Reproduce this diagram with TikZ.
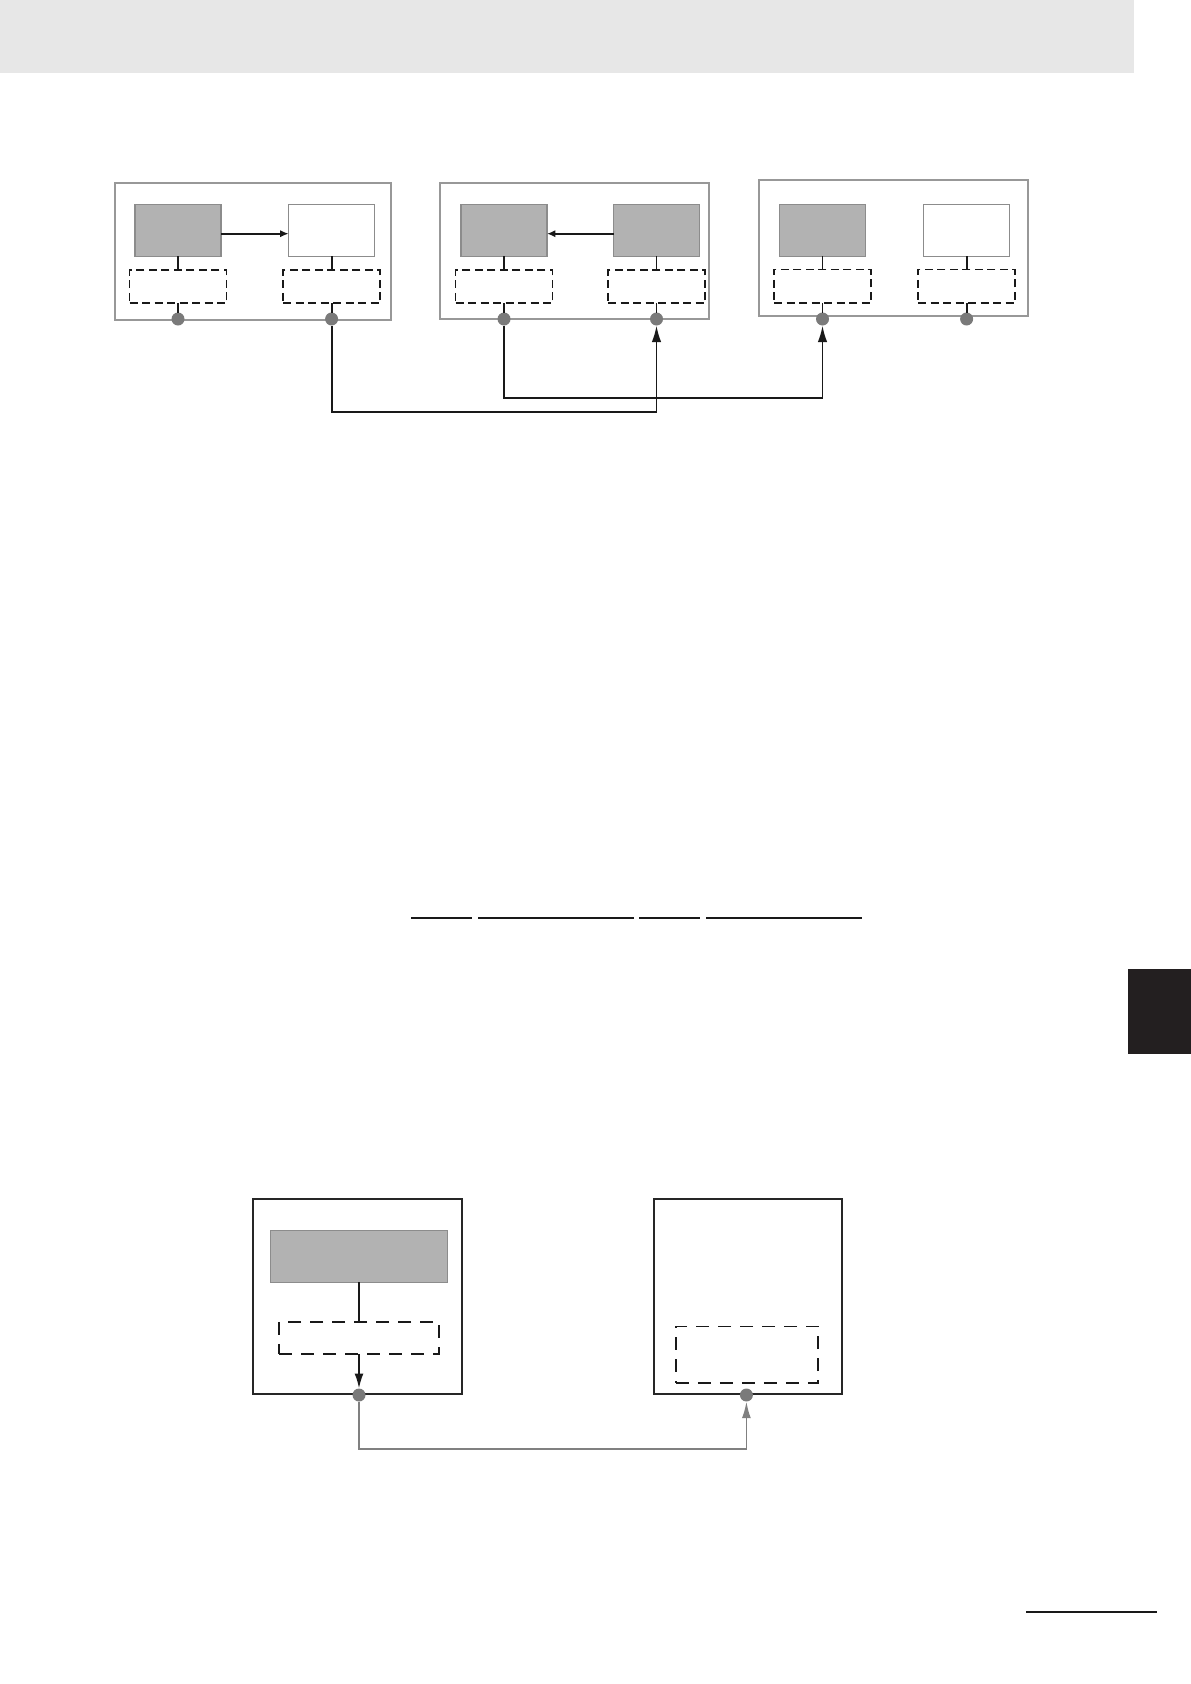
\documentclass[tikz,border=0pt]{standalone}
\usepackage{tikz}
\usetikzlibrary{arrows.meta}
\usetikzlibrary{calc}
\definecolor{fill1}{RGB}{178, 178, 178}
\definecolor{edge1}{RGB}{140, 140, 140}
\definecolor{frame1}{RGB}{152, 152, 152}
\definecolor{dot1}{RGB}{122, 122, 122}
\definecolor{head1}{RGB}{231, 231, 231}
\definecolor{tab1}{RGB}{35, 31, 32}
\definecolor{link1}{RGB}{128, 128, 128}
\tikzset{
  unit/.style={rectangle, inner sep=0pt, outer sep=0pt},
  frame/.style={unit, draw=frame1, line width=1.8pt},
  darkframe/.style={unit, draw=black!85, line width=2pt},
  fullbox/.style={unit, draw=edge1, fill=fill1, line width=1.6pt, minimum width=86pt, minimum height=52pt},
  emptybox/.style={unit, draw=edge1, line width=1pt, minimum width=86pt, minimum height=52pt},
  dashbox/.style={unit, draw=black!90, line width=1.8pt, dash pattern=on 8pt off 4.5pt, minimum width=97pt, minimum height=33.3pt},
  bigdash/.style={unit, draw=black!90, line width=1.7pt, dash pattern=on 13pt off 9pt},
  port/.style={circle, fill=dot1, minimum size=13pt, inner sep=0pt, outer sep=0pt},
  tie/.style={line width=1.8pt, black!90},
  link/.style={line width=1.9pt, black!90, -{Latex[length=16.7pt,width=9.6pt]}},
  glink/.style={line width=1.8pt, link1, -{Latex[length=16.7pt,width=9pt]}}
}
\begin{document}
\begin{tikzpicture}[x=1pt, y=-1pt]
\useasboundingbox (0,0) rectangle (1191,1684);
\fill[head1] (0,0) rectangle (1134,73.3);
\fill[tab1] (1127.8,969) rectangle (1191,1053.7);
\draw[line width=2pt, black!90] (1026,1611.7) -- (1156.7,1611.7);
\foreach \a/\b in {411/472, 478/634, 639/700, 706/862}
  \draw[line width=2.2pt, black!90] (\a,917.7) -- (\b,917.7);
% three units on top
\node[frame, minimum width=276pt, minimum height=136.7pt] (u1) at (253,251.7) {};
\node[frame, minimum width=269.5pt, minimum height=136.3pt] (u2) at (574.5,250.8) {};
\node[frame, minimum width=269.4pt, minimum height=135.7pt] (u3) at (893.4,247.8) {};
\node[fullbox] (g1a) at (178,230.3) {};
\node[emptybox] (g1b) at (331.6,230.3) {};
\node[fullbox] (g2a) at (504,230.3) {};
\node[fullbox] (g2b) at (656.5,230.3) {};
\node[fullbox] (g3a) at (822.5,230.3) {};
\node[emptybox] (g3b) at (966.6,230.3) {};
\node[dashbox] (d1a) at (178,286.7) {};
\node[dashbox] (d1b) at (331.6,286.7) {};
\node[dashbox] (d2a) at (504,286.7) {};
\node[dashbox] (d2b) at (656.5,286.7) {};
\node[dashbox] (d3a) at (822.5,286.2) {};
\node[dashbox] (d3b) at (966.6,286.2) {};
\node[port] (p1a) at (178,319) {};
\node[port] (p1b) at (331.6,319) {};
\node[port] (p2a) at (504,319) {};
\node[port] (p2b) at (656.5,319) {};
\node[port] (p3a) at (822.5,319) {};
\node[port] (p3b) at (966.6,319) {};
\foreach \up/\mid/\down in {g1a/d1a/p1a, g1b/d1b/p1b, g2a/d2a/p2a, g2b/d2b/p2b, g3a/d3a/p3a, g3b/d3b/p3b}
  \draw[tie] (\up) -- (\mid) (\mid) -- (\down);
\draw[tie, -{Latex[length=8.4pt,width=7.3pt]}] (g1a.east |- 0,233.7) -- (g1b.west |- 0,233.7);
\draw[tie, -{Latex[length=8.4pt,width=7.3pt]}] (g2b.west |- 0,233.7) -- (g2a.east |- 0,233.7);
\draw[link] (p1b) -- ++(0,93.3) -| (p2b);
\draw[link] (p2a) -- ++(0,78.7) -| (p3a);
% two units below
\node[darkframe, minimum width=209.3pt, minimum height=195.3pt] (uL) at (357.4,1296.3) {};
\node[darkframe, minimum width=187.5pt, minimum height=195.3pt] (uR) at (747.8,1296.3) {};
\node[fullbox, minimum width=177.2pt, minimum height=51.7pt] (gL) at (359,1256.5) {};
\node[bigdash, minimum width=159.8pt, minimum height=32.3pt] (dL) at (359,1337.8) {};
\node[bigdash, minimum width=142.4pt, minimum height=56.3pt] (dR) at (747.1,1354.5) {};
\node[port] (pL) at (359,1395) {};
\node[port] (pR) at (746.4,1395) {};
\draw[tie] (gL) -- (dL);
\draw[tie, -{Latex[length=15pt,width=9pt]}] (dL) -- (pL);
\draw[glink] (pL) -- ++(0,53.7) -| (pR);
\end{tikzpicture}
\end{document}
